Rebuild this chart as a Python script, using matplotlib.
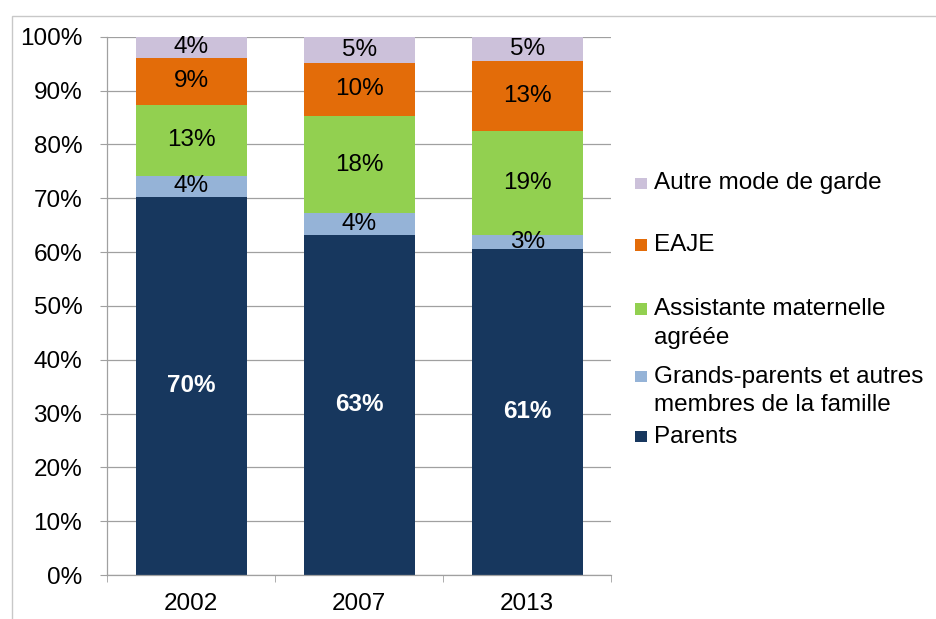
import matplotlib
matplotlib.use("Agg")
import matplotlib.pyplot as plt
from matplotlib.patches import Rectangle
import numpy as np

plt.rcParams['font.family'] = ['Liberation Sans', 'DejaVu Sans']

years = ['2002', '2007', '2013']
parents = [70.3, 63.2, 60.6]
grands_parents = [3.8, 4.1, 2.6]
assistante = [13.3, 17.9, 19.3]
eaje = [8.6, 10.0, 12.9]
autre = [4.0, 4.8, 4.6]

series = [
    ('Parents', parents, '#17375E'),
    ('Grands-parents et autres\nmembres de la famille', grands_parents, '#95B3D7'),
    ('Assistante maternelle\nagréée', assistante, '#92D050'),
    ('EAJE', eaje, '#E36C09'),
    ('Autre mode de garde', autre, '#CCC1DA'),
]

W, H = 936, 619
fig = plt.figure(figsize=(W / 100, H / 100), dpi=100)
ax = fig.add_axes([107.3 / W, 1 - 575 / H, (611.3 - 107.3) / W, (575 - 36.7) / H])

fs = 17.5
grid_col = '#a0a0a0'
x = np.arange(len(years))
bottom = np.zeros(len(years))
for name, vals, col in series:
    bars = ax.bar(x, vals, bottom=bottom, width=0.663, color=col, zorder=2)
    labels = [f"{v:.0f}%" for v in vals]
    if name == 'Parents':
        ax.bar_label(bars, labels=labels, label_type='center', color='white',
                     fontsize=fs, fontweight='bold')
    else:
        ax.bar_label(bars, labels=labels, label_type='center', color='black', fontsize=fs)
    bottom += np.array(vals)

ax.set_xlim(-0.5, 2.5)
ax.set_ylim(0, 100)
ax.set_yticks(np.arange(0, 101, 10))
ax.set_yticklabels([f"{t}%" for t in range(0, 101, 10)], fontsize=fs)
ax.set_xticks(x)
ax.set_xticklabels(years, fontsize=fs)
ax.set_xticks([-0.5, 0.5, 1.5, 2.5], minor=True)
ax.tick_params(axis='x', which='major', length=0, pad=13)
ax.tick_params(axis='x', which='minor', length=5, color=grid_col, direction='out')
ax.tick_params(axis='y', length=5, color=grid_col, pad=13)
ax.yaxis.grid(True, color=grid_col, linewidth=0.9, zorder=0)
ax.set_axisbelow(True)
for s in ['top', 'right']:
    ax.spines[s].set_visible(False)
for s in ['left', 'bottom']:
    ax.spines[s].set_color(grid_col)
    ax.spines[s].set_linewidth(0.9)

# outer chart border
fig.add_artist(Rectangle((12.3 / W, -0.2), 1.0, 1.2 - 15.7 / H, transform=fig.transFigure,
                         fill=False, edgecolor='#c8c8c8', linewidth=1.0, clip_on=False))

# legend (drawn by hand so the marker sits on the first line)
legend_rows = [
    ('Autre mode de garde', '#CCC1DA', 183.3, 183.3),
    ('EAJE', '#E36C09', 245.0, 245.0),
    ('Assistante maternelle\nagréée', '#92D050', 323.5, 309.0),
    ('Grands-parents et autres\nmembres de la famille', '#95B3D7', 391.0, 376.7),
    ('Parents', '#17375E', 436.7, 436.7),
]
sq = 11.5
for label, col, ty, my in legend_rows:
    fig.add_artist(Rectangle((635 / W, 1 - (my + sq / 2) / H), sq / W, sq / H,
                             transform=fig.transFigure, facecolor=col, edgecolor='none'))
    fig.text(654 / W, 1 - ty / H, label, fontsize=fs, va='center', ha='left',
             linespacing=1.4)

fig.savefig('out.png', dpi=100, facecolor='white')
